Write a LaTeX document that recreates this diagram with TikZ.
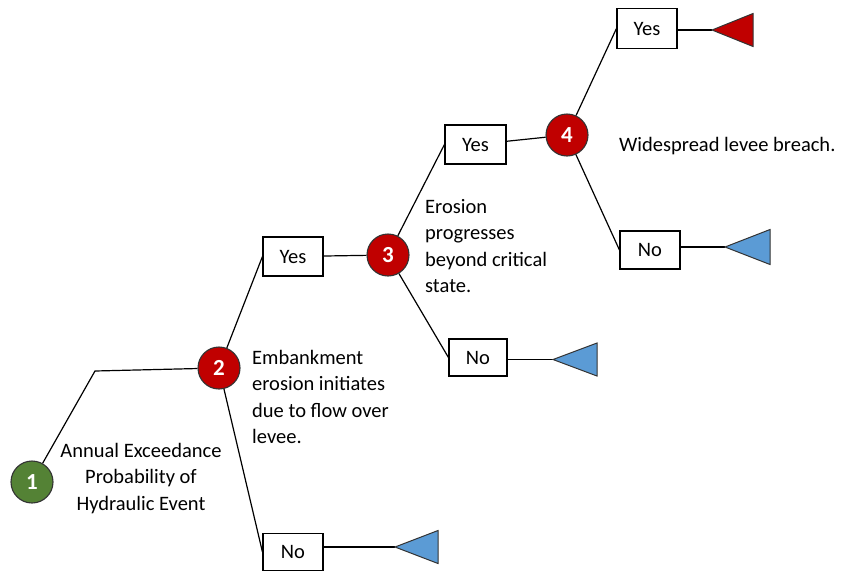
\documentclass[tikz,border=0pt]{standalone}
\usepackage{fontspec}
\setmainfont{Carlito}
\definecolor{dred}{HTML}{C00000}
\definecolor{dgreen}{HTML}{548235}
\definecolor{lblue}{HTML}{5B9BD5}
\begin{document}
\begin{tikzpicture}[x=1pt,y=-1pt,
  chance/.style={circle,draw=black!80,line width=1.1pt,minimum size=42pt,inner sep=0pt,text=white,font=\fontsize{23}{23}\selectfont\bfseries},
  branchbox/.style={draw,line width=1.1pt,minimum width=60pt,minimum height=39pt,inner sep=0pt,font=\fontsize{20.5}{20.5}\selectfont},
  desc/.style={align=left,anchor=base west,inner sep=0pt,font=\fontsize{20.5}{26.5}\selectfont},
  conn/.style={line width=1.2pt},
  endtri/.style={draw=black!80,line width=1pt}]
\useasboundingbox (0,0) rectangle (843,571);
% chance nodes
\node[chance,fill=dgreen] (n1) at (32,482) {1};
\node[chance,fill=dred] (n2) at (219,368) {2};
\node[chance,fill=dred] (n3) at (388,255) {3};
\node[chance,fill=dred] (n4) at (567,135) {4};
% branch boxes
\node[branchbox] (y2) at (293,256.5) {Yes};
\node[branchbox,minimum height=37pt] (no2) at (293,552) {No};
\node[branchbox,minimum width=61pt] (y3) at (475.5,144.5) {Yes};
\node[branchbox,minimum width=58pt,minimum height=37pt] (no3) at (478,357.5) {No};
\node[branchbox,minimum height=40pt] (y4) at (647,28.5) {Yes};
\node[branchbox,minimum height=38pt] (no4) at (650,250) {No};
% descriptions (base anchor = baseline of last line)
\node[desc,align=center,anchor=base] (d1) at (141,510) {Annual Exceedance\\Probability of\\Hydraulic Event};
\node[desc] (d2) at (252,443.5) {Embankment\\erosion initiates\\due to flow over\\levee.};
\node[desc] (d3) at (425,292.5) {Erosion\\progresses\\beyond critical\\state.};
\node[desc] (d4) at (619,151) {Widespread levee breach.};
% connectors
\coordinate (c1) at (95,371);
\draw[conn] (n1) -- (c1) -- (n2);
\draw[conn] (n2) -- (y2.west);
\draw[conn] (n2) -- (no2.west);
\draw[conn] (y2) -- (n3);
\draw[conn] (n3) -- (y3.west);
\draw[conn] (n3) -- (no3.west);
\draw[conn] (y3) -- (n4);
\draw[conn] (n4) -- (y4.west);
\draw[conn] (n4) -- (no4.west);
% terminal triangles
\coordinate (ty4) at (712,30);
\coordinate (tno4) at (725,247);
\coordinate (tno3) at (553,359.5);
\coordinate (tno2) at (395,547);
\draw[conn] (y4.east |- ty4) -- (ty4);
\draw[conn] (no4.east |- tno4) -- (tno4);
\draw[conn] (no3.east |- tno3) -- (tno3);
\draw[conn] (no2.east |- tno2) -- (tno2);
\filldraw[endtri,fill=dred] (ty4) -- ++(41,-16.5) -- ++(0,33) -- cycle;
\filldraw[endtri,fill=lblue] (tno4) -- ++(45,-17.5) -- ++(0,35) -- cycle;
\filldraw[endtri,fill=lblue] (tno3) -- ++(44,-16.5) -- ++(0,33) -- cycle;
\filldraw[endtri,fill=lblue] (tno2) -- ++(43,-16.5) -- ++(0,33) -- cycle;
\end{tikzpicture}
\end{document}
